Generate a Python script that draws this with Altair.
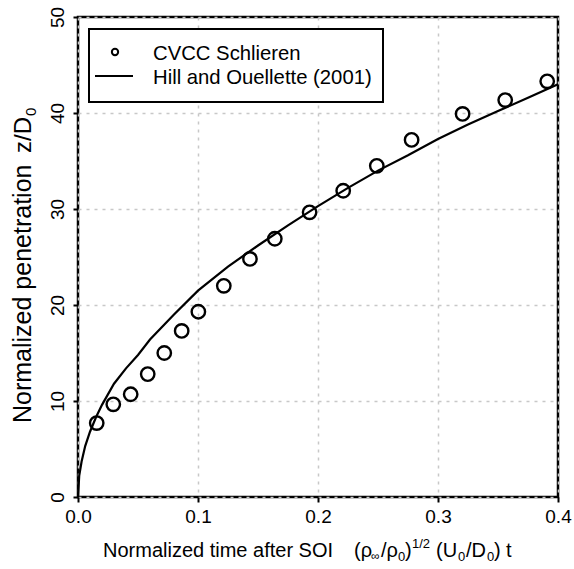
import altair as alt
import pandas as pd

# Observed (CVCC Schlieren) data
t_obs = [0.0156, 0.0294, 0.0439, 0.0581, 0.0719, 0.0864, 0.1003, 0.1215, 0.1433,
         0.1640, 0.1930, 0.2210, 0.2490, 0.2780, 0.3205, 0.3560, 0.3910]
z_obs = [7.7, 9.65, 10.7, 12.8, 15.0, 17.3, 19.3, 22.0, 24.8,
         26.9, 29.65, 31.9, 34.5, 37.2, 39.9, 41.35, 43.3]

t_fit = [0, 0.001, 0.003, 0.006, 0.01, 0.015, 0.02, 0.03, 0.04, 0.05, 0.06, 0.08,
         0.1, 0.125, 0.15, 0.175, 0.2, 0.225, 0.25, 0.275, 0.3, 0.325, 0.35, 0.375, 0.4]
z_fit = [0, 2.2, 3.7, 5.3, 6.8, 8.3, 9.6, 11.8, 13.4, 14.8, 16.4, 19.0,
         21.5, 24.0, 26.2, 28.3, 30.3, 32.2, 34.0, 35.6, 37.3, 38.8, 40.2, 41.6, 43.0]

x_ticks = [0.0, 0.1, 0.2, 0.3, 0.4]
y_ticks = [0, 10, 20, 30, 40, 50]
legend_labels = ["CVCC Schlieren", "Hill and Ouellette (2001)"]

FONT = "Liberation Sans"
W, H = 480, 480

obs = pd.DataFrame({"t": t_obs, "z": z_obs})
fit = pd.DataFrame({"t": t_fit, "z": z_fit})
one = pd.DataFrame({"a": [0]})

xs = alt.Scale(domain=[0, 0.4], nice=False, zero=False)
ys = alt.Scale(domain=[0, 50], nice=False, zero=False)

x_axis = alt.Axis(values=x_ticks, format=".1f", title=None, grid=True,
                  labelFlush=False, labelPadding=5, tickSize=5)
y_axis = alt.Axis(values=y_ticks, format="d", title=None, grid=True,
                  labelFlush=False, labelAngle=270, labelAlign="center",
                  labelBaseline="bottom", labelPadding=6, tickSize=5)

line = alt.Chart(fit).mark_line(color="black", strokeWidth=2.2).encode(
    x=alt.X("t:Q", scale=xs, axis=x_axis),
    y=alt.Y("z:Q", scale=ys, axis=y_axis),
)

pts = alt.Chart(obs).mark_point(shape="circle", filled=False, color="black",
                                strokeWidth=2.4, size=180, opacity=1).encode(
    x=alt.X("t:Q", scale=xs),
    y=alt.Y("z:Q", scale=ys),
)


def txt(text, x, y, size=20, angle=0, align="left", baseline="alphabetic"):
    return alt.Chart(one).mark_text(text=text, font=FONT, fontSize=size, angle=angle,
                                    align=align, baseline=baseline, color="black").encode(
        x=alt.value(x), y=alt.value(y))


# legend
leg_box = alt.Chart(one).mark_rect(fill="white", stroke="black", strokeWidth=2).encode(
    x=alt.value(11), x2=alt.value(305), y=alt.value(12), y2=alt.value(85))
leg_sym = alt.Chart(one).mark_point(shape="circle", filled=False, color="black",
                                    strokeWidth=2, size=40, opacity=1).encode(
    x=alt.value(37), y=alt.value(35))
leg_line = alt.Chart(one).mark_rule(color="black", strokeWidth=2).encode(
    x=alt.value(17), x2=alt.value(55), y=alt.value(59))
leg_t1 = txt(legend_labels[0], 75, 37, size=20.3, baseline="middle")
leg_t2 = txt(legend_labels[1], 75, 61, size=20.3, baseline="middle")

# x-axis title pieces
XB = 540
xt = [
    txt("Normalized time after SOI", 25, XB),
    txt("(\u03c1", 276, XB),
    txt("\u221e", 293, XB + 3, size=12),
    txt("/\u03c1", 303, XB),
    txt("0", 320, XB + 4, size=13),
    txt(")", 327, XB),
    txt("1/2", 334, XB - 9, size=13),
    txt("(U", 358, XB),
    txt("0", 380, XB + 4, size=13),
    txt("/D", 388, XB),
    txt("0", 409, XB + 4, size=13),
    txt(")", 416, XB),
    txt("t", 428, XB),
]

# y-axis title pieces (rotated)
YB = -47
yt = [
    txt("Normalized penetration", YB, 406, size=25, angle=270),
    txt("z/D", YB, 136, size=24, angle=270),
    txt("0", YB + 5, 99, size=15, angle=270),
]

chart = alt.layer(line, pts, leg_box, leg_sym, leg_line, leg_t1, leg_t2, *xt, *yt).properties(
    width=W, height=H,
    autosize=alt.AutoSizeParams(type="none"),
    padding={"left": 78, "top": 17, "right": 16, "bottom": 72},
).configure_view(
    stroke="black", strokeWidth=2.5
).configure_axis(
    domain=False,
    tickColor="black", tickWidth=2,
    labelFont=FONT, labelFontSize=19, labelColor="black",
    gridColor="#c8c8c8", gridDash=[3, 5], gridWidth=1.5,
)

chart.save("out.html", embed_options={"renderer": "svg", "actions": False})
